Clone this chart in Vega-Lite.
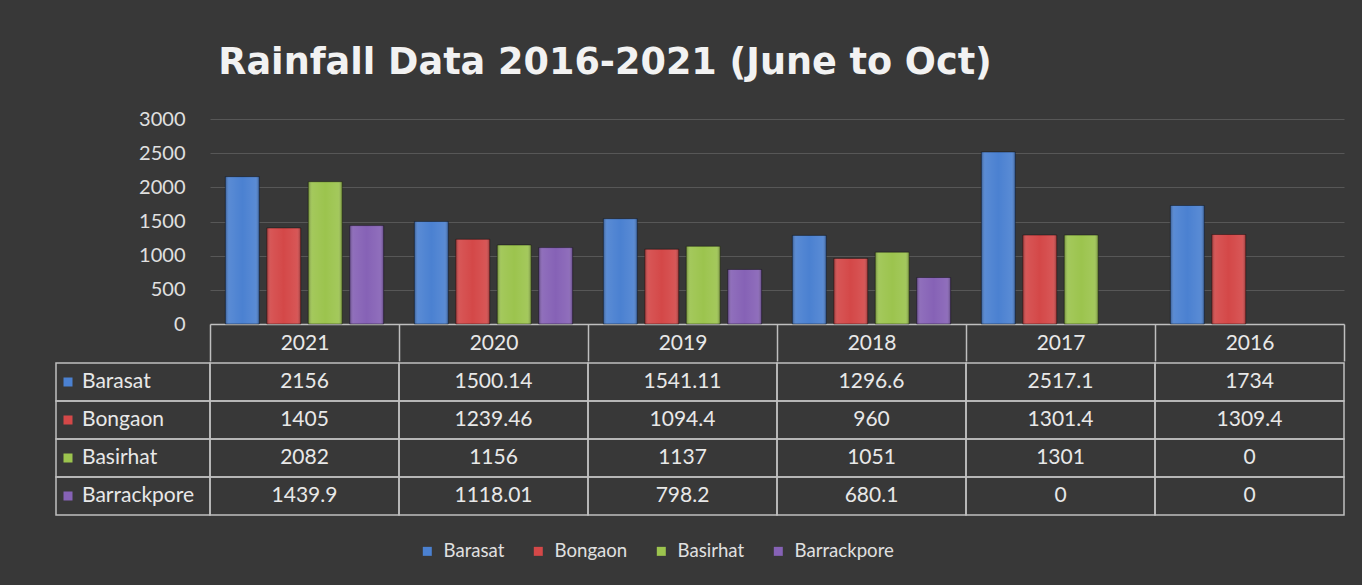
{
  "$schema": "https://vega.github.io/schema/vega-lite/v6.json",
  "background": "#383838",
  "padding": {"left": 55, "top": 45, "right": 19, "bottom": 24},
  "config": {"font": "Lato", "view": {"stroke": null}},
  "title": {
    "text": "Rainfall Data 2016-2021 (June to Oct)",
    "anchor": "start",
    "dx": 163,
    "font": "DejaVu Sans",
    "fontSize": 36.6,
    "fontWeight": "bold",
    "color": "#f2f2f2",
    "offset": 27
  },
  "datasets": {
    "rain": [
      {"year": "2021", "series": "Barasat", "value": 2156},
      {"year": "2021", "series": "Bongaon", "value": 1405},
      {"year": "2021", "series": "Basirhat", "value": 2082},
      {"year": "2021", "series": "Barrackpore", "value": 1439.9},
      {"year": "2020", "series": "Barasat", "value": 1500.14},
      {"year": "2020", "series": "Bongaon", "value": 1239.46},
      {"year": "2020", "series": "Basirhat", "value": 1156},
      {"year": "2020", "series": "Barrackpore", "value": 1118.01},
      {"year": "2019", "series": "Barasat", "value": 1541.11},
      {"year": "2019", "series": "Bongaon", "value": 1094.4},
      {"year": "2019", "series": "Basirhat", "value": 1137},
      {"year": "2019", "series": "Barrackpore", "value": 798.2},
      {"year": "2018", "series": "Barasat", "value": 1296.6},
      {"year": "2018", "series": "Bongaon", "value": 960},
      {"year": "2018", "series": "Basirhat", "value": 1051},
      {"year": "2018", "series": "Barrackpore", "value": 680.1},
      {"year": "2017", "series": "Barasat", "value": 2517.1},
      {"year": "2017", "series": "Bongaon", "value": 1301.4},
      {"year": "2017", "series": "Basirhat", "value": 1301},
      {"year": "2017", "series": "Barrackpore", "value": 0},
      {"year": "2016", "series": "Barasat", "value": 1734},
      {"year": "2016", "series": "Bongaon", "value": 1309.4},
      {"year": "2016", "series": "Basirhat", "value": 0},
      {"year": "2016", "series": "Barrackpore", "value": 0}
    ]
  },
  "data": {"name": "rain"},
  "spacing": 0,
  "resolve": {"scale": {"color": "shared"}},
  "vconcat": [
    {
      "width": 1134,
      "height": 205,
      "encoding": {
        "x": {
          "field": "year", "type": "nominal",
          "sort": ["2021", "2020", "2019", "2018", "2017", "2016"],
          "scale": {"paddingInner": 0, "paddingOuter": 0},
          "axis": {
            "title": null, "orient": "bottom", "labelAngle": 0,
            "domainColor": "#bfbfbf", "domainWidth": 1.5,
            "ticks": true, "tickBand": "extent", "tickSize": 37,
            "tickColor": "#bfbfbf", "tickWidth": 1.5,
            "labelFont": "Lato", "labelFontSize": 21, "labelColor": "#e8e8e8",
            "labelBaseline": "middle", "labelPadding": -18, "grid": false
          }
        },
        "xOffset": {
          "field": "series", "type": "nominal",
          "sort": ["Barasat", "Bongaon", "Basirhat", "Barrackpore"],
          "scale": {"paddingInner": 0.18, "paddingOuter": 0.37}
        },
        "y": {
          "field": "value", "type": "quantitative",
          "scale": {"domain": [0, 3000]},
          "axis": {
            "title": null, "values": [0, 500, 1000, 1500, 2000, 2500, 3000],
            "format": "d",
            "domain": false, "ticks": false, "labelPadding": 25,
            "labelFont": "Lato", "labelFontSize": 20, "labelColor": "#e0e0e0",
            "gridColor": "#575757", "gridWidth": 1,
            "minExtent": 154, "maxExtent": 154
          }
        }
      },
      "layer": [
        {
          "mark": {"type": "bar"},
          "encoding": {
            "color": {
              "field": "series", "type": "nominal",
              "scale": {
                "domain": ["Barasat", "Bongaon", "Basirhat", "Barrackpore"],
                "range": ["#4b81d1", "#d44848", "#9cc44e", "#8662b6"]
              },
              "legend": {
                "title": null, "orient": "none", "legendX": 208, "legendY": 423,
                "direction": "horizontal",
                "symbolType": "square", "symbolSize": 81, "symbolStrokeWidth": 0,
                "labelFont": "Lato", "labelFontSize": 18.6, "labelColor": "#e0e0e0",
                "labelOffset": 7, "columnPadding": 24
              }
            }
          }
        },
        {
          "transform": [{"filter": "datum.value > 0"}],
          "mark": {
            "type": "bar",
            "stroke": "rgba(0,0,0,0.4)",
            "strokeWidth": 1,
            "fill": {
              "gradient": "linear", "x1": 0, "x2": 1, "y1": 0, "y2": 0,
              "stops": [
                {"offset": 0, "color": "rgba(0,0,0,0.3)"},
                {"offset": 0.12, "color": "rgba(255,255,255,0.08)"},
                {"offset": 0.5, "color": "rgba(255,255,255,0.0)"},
                {"offset": 0.88, "color": "rgba(255,255,255,0.08)"},
                {"offset": 1, "color": "rgba(0,0,0,0.3)"}
              ]
            }
          }
        }
      ]
    },
    {
      "width": 1134,
      "height": 152,
      "encoding": {
        "y": {
          "field": "series", "type": "nominal",
          "sort": ["Barasat", "Bongaon", "Basirhat", "Barrackpore"],
          "scale": {"paddingInner": 0, "paddingOuter": 0},
          "axis": null
        }
      },
      "layer": [
        {
          "mark": {"type": "rect", "fill": "transparent", "stroke": "#bfbfbf", "strokeWidth": 1.5},
          "encoding": {
            "x": {"field": "year", "type": "nominal",
              "sort": ["2021", "2020", "2019", "2018", "2017", "2016"],
              "scale": {"paddingInner": 0, "paddingOuter": 0}, "axis": null}
          }
        },
        {
          "mark": {"type": "text", "font": "Lato", "fontSize": 21, "color": "#e8e8e8"},
          "encoding": {
            "x": {"field": "year", "type": "nominal",
              "sort": ["2021", "2020", "2019", "2018", "2017", "2016"],
              "scale": {"paddingInner": 0, "paddingOuter": 0}, "axis": null},
            "text": {"field": "value", "type": "nominal"}
          }
        },
        {
          "transform": [{"filter": "datum.year == '2021'"}],
          "mark": {"type": "rect", "fill": "transparent", "stroke": "#bfbfbf", "strokeWidth": 1.5},
          "encoding": {
            "x": {"datum": "name", "type": "nominal",
              "scale": {"range": [-154, 0], "paddingInner": 0, "paddingOuter": 0}, "axis": null}
          }
        },
        {
          "transform": [{"filter": "datum.year == '2021'"}],
          "mark": {"type": "point", "shape": "square", "filled": true, "size": 81, "opacity": 1, "xOffset": -65},
          "encoding": {
            "x": {"datum": "name", "type": "nominal",
              "scale": {"range": [-154, 0], "paddingInner": 0, "paddingOuter": 0}, "axis": null},
            "color": {"field": "series", "type": "nominal"}
          }
        },
        {
          "transform": [{"filter": "datum.year == '2021'"}],
          "mark": {"type": "text", "align": "left", "dx": -51, "font": "Lato", "fontSize": 21, "color": "#e8e8e8"},
          "encoding": {
            "x": {"datum": "name", "type": "nominal",
              "scale": {"range": [-154, 0], "paddingInner": 0, "paddingOuter": 0}, "axis": null},
            "text": {"field": "series", "type": "nominal"}
          }
        }
      ],
      "resolve": {"scale": {"x": "independent"}}
    }
  ]
}
